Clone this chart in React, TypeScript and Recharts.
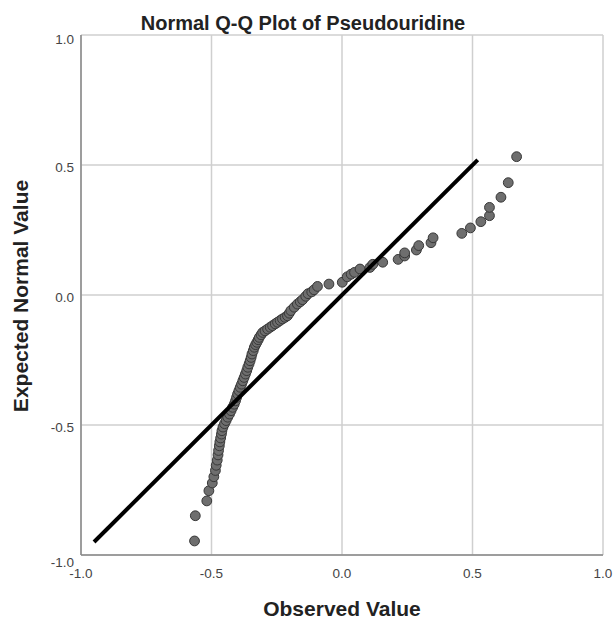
import React from 'react';
import { ScatterChart, Scatter, XAxis, YAxis, CartesianGrid } from 'recharts';

const observed = [
  -0.565, -0.562, -0.518, -0.510, -0.497, -0.491, -0.485, -0.482, -0.478, -0.475,
  -0.473, -0.470, -0.468, -0.465, -0.462, -0.460, -0.456, -0.450, -0.444, -0.438,
  -0.431, -0.425, -0.419, -0.413, -0.408, -0.404, -0.400, -0.395, -0.390, -0.385,
  -0.380, -0.375, -0.370, -0.365, -0.361, -0.356, -0.352, -0.348, -0.345, -0.340,
  -0.336, -0.331, -0.326, -0.321, -0.317, -0.310, -0.304, -0.295, -0.285, -0.275,
  -0.266, -0.256, -0.247, -0.237, -0.228, -0.218, -0.209, -0.202, -0.196, -0.183,
  -0.171, -0.160, -0.151, -0.139, -0.130, -0.116, -0.107, -0.094, -0.050, 0.001,
  0.020, 0.035, 0.048, 0.069, 0.107, 0.118, 0.156, 0.215, 0.240, 0.240,
  0.285, 0.294, 0.341, 0.349, 0.459, 0.492, 0.532, 0.565, 0.565, 0.609,
  0.637, 0.669,
];

const expected = [
  -0.946, -0.849, -0.792, -0.753, -0.723, -0.699, -0.675, -0.655, -0.635, -0.615,
  -0.598, -0.580, -0.565, -0.550, -0.535, -0.522, -0.508, -0.495, -0.483, -0.470,
  -0.458, -0.445, -0.432, -0.420, -0.407, -0.394, -0.381, -0.368, -0.355, -0.343,
  -0.330, -0.317, -0.304, -0.291, -0.278, -0.265, -0.253, -0.240, -0.227, -0.214,
  -0.201, -0.191, -0.182, -0.172, -0.163, -0.153, -0.144, -0.138, -0.131, -0.124,
  -0.118, -0.111, -0.105, -0.098, -0.092, -0.086, -0.080, -0.070, -0.060, -0.047,
  -0.035, -0.026, -0.018, -0.005, 0.005, 0.012, 0.020, 0.033, 0.042, 0.049,
  0.070, 0.080, 0.087, 0.100, 0.106, 0.118, 0.126, 0.137, 0.150, 0.162,
  0.173, 0.190, 0.201, 0.220, 0.237, 0.258, 0.282, 0.305, 0.337, 0.376,
  0.432, 0.532,
];

const lineEnds = [-0.95, 0.52];
const ticks = [-1, -0.5, 0, 0.5, 1];
const title = 'Normal Q-Q Plot of Pseudouridine';
const xTitle = 'Observed Value';
const yTitle = 'Expected Normal Value';

const points = observed.map((x, i) => ({ x, y: expected[i] }));
const lineData = lineEnds.map((v) => ({ x: v, y: v }));

const FONT = '"Liberation Sans", Arial, sans-serif';

const YTick = (props: any) => {
  const { x, y, payload } = props;
  const v = payload.value;
  const shift = v === 1 ? 4.5 : v === -1 ? 7 : 2;
  return (
    <text x={x} y={y + shift} dy="0.355em" textAnchor="end" fontSize={13.5} fontFamily={FONT} fill="#444">
      {Number(v).toFixed(1)}
    </text>
  );
};

const XTick = (props: any) => {
  const { x, y, payload } = props;
  const v = payload.value;
  return (
    <text x={x} y={y} dy="0.71em" textAnchor="middle" fontSize={13.5} fontFamily={FONT} fill="#444">
      {Number(v).toFixed(1)}
    </text>
  );
};

const Dot = (props: any) => {
  const { cx, cy } = props;
  if (cx == null || cy == null) return <g />;
  return <circle cx={cx} cy={cy} r={4.9} fill="#6e6e6e" stroke="#383838" strokeWidth={1} />;
};

export default function App() {
  return (
    <div style={{ position: 'absolute', left: 0, top: 0, width: 616, height: 624, background: '#fff' }}>
      <ScatterChart width={616} height={624} margin={{ top: 35, right: 13, bottom: 39, left: 0 }}>
        <CartesianGrid stroke="#cfcfcf" strokeWidth={1.5} />
        <XAxis
          type="number"
          dataKey="x"
          domain={[-1, 1]}
          ticks={ticks}
          height={30}
          tickSize={0}
          tickMargin={13}
          tickLine={false}
          axisLine={{ stroke: '#888', strokeWidth: 1.5 }}
          tick={XTick}
          allowDataOverflow
        />
        <YAxis
          type="number"
          dataKey="y"
          domain={[-1, 1]}
          ticks={ticks}
          width={81}
          tickSize={0}
          tickMargin={7}
          tickLine={false}
          axisLine={{ stroke: '#888', strokeWidth: 1.5 }}
          tick={YTick}
          allowDataOverflow
        />
        <Scatter data={points} shape={Dot} isAnimationActive={false} />
        <Scatter
          data={lineData}
          line={{ stroke: '#000', strokeWidth: 4 }}
          shape={() => <g />}
          isAnimationActive={false}
        />
      </ScatterChart>
      <svg
        width={616}
        height={624}
        style={{ position: 'absolute', left: 0, top: 0, pointerEvents: 'none' }}
      >
        <text x={303} y={30} textAnchor="middle" fontSize={20} fontWeight="bold" fontFamily={FONT} fill="#222">
          {title}
        </text>
        <text x={342} y={616} textAnchor="middle" fontSize={21} fontWeight="bold" fontFamily={FONT} fill="#222">
          {xTitle}
        </text>
        <text
          x={28}
          y={296}
          textAnchor="middle"
          fontSize={21}
          fontWeight="bold"
          fontFamily={FONT}
          fill="#222"
          transform="rotate(-90, 28, 296)"
        >
          {yTitle}
        </text>
      </svg>
    </div>
  );
}
